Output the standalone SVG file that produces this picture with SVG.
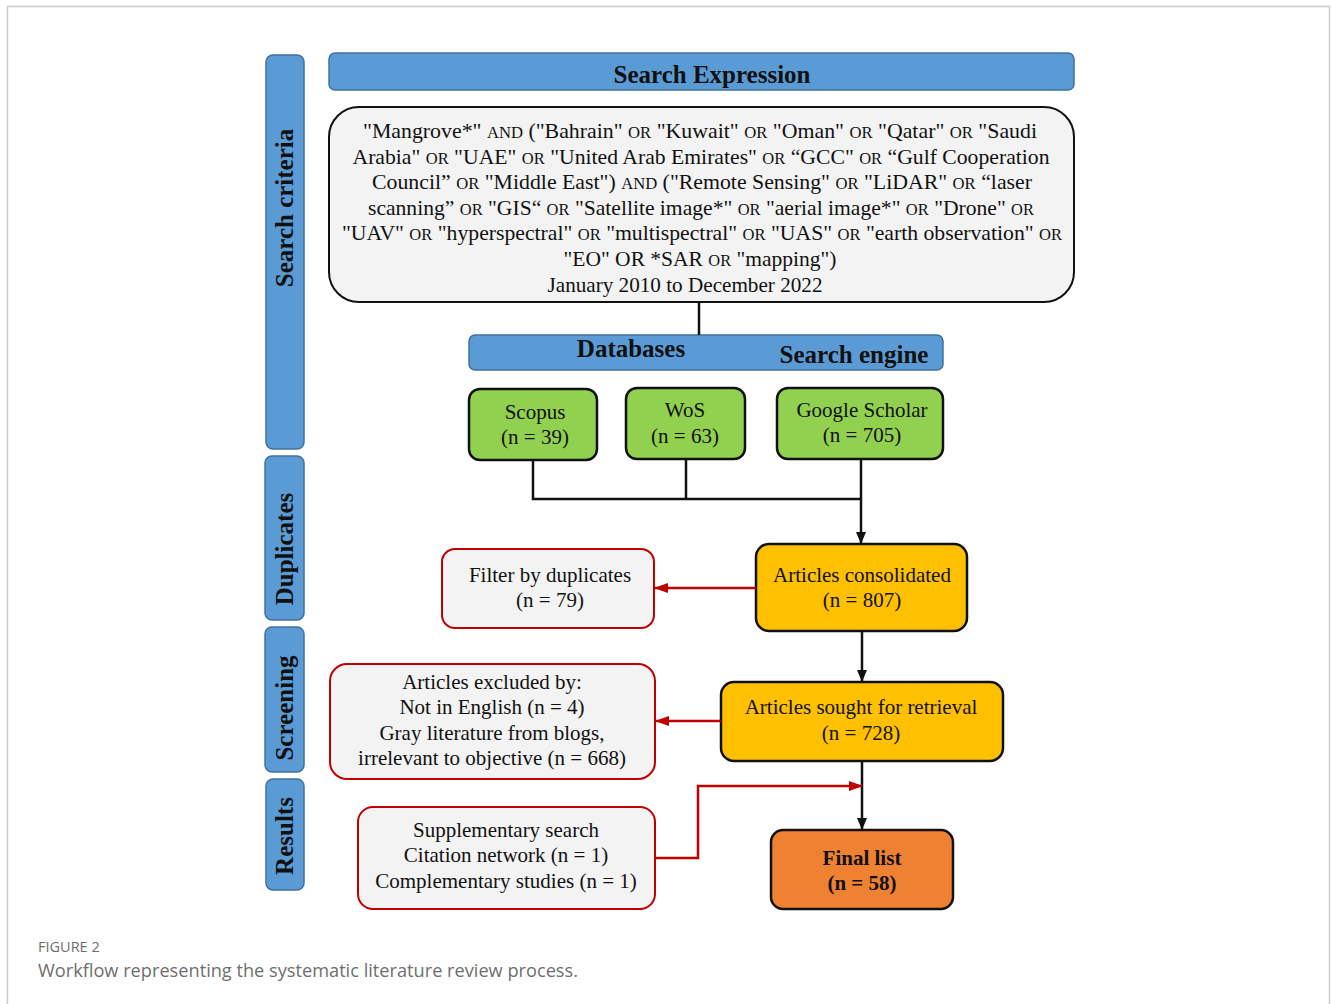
<svg xmlns="http://www.w3.org/2000/svg" width="1331" height="1004" viewBox="0 0 1331 1004">
<style>
.bar{fill:#5b9bd5;stroke:#41719c;stroke-width:1.5}
.side{fill:#5b9bd5;stroke:#41719c;stroke-width:1.5}
.green{fill:#92d050;stroke:#111;stroke-width:2.5}
.yellow{fill:#ffc000;stroke:#111;stroke-width:2.5}
.orange{fill:#ef8133;stroke:#111;stroke-width:2.5}
.red{fill:#f3f3f3;stroke:#c00000;stroke-width:2}
.grey{fill:#f3f3f3;stroke:#111;stroke-width:2}
.t{font-family:"Liberation Serif","Times New Roman",serif;font-size:21px;fill:#111;text-anchor:middle}
.b{font-family:"Liberation Serif","Times New Roman",serif;font-size:25px;font-weight:bold;fill:#111;text-anchor:middle}
.s{font-size:16px}
.k{fill:none;stroke:#111;stroke-width:2.5}
.r{fill:none;stroke:#c00000;stroke-width:2.5}
.cap{font-family:"Open Sans","Noto Sans",sans-serif;fill:#6e6e6e}
</style>
<defs>
<marker id="ak" markerWidth="12" markerHeight="12" refX="11" refY="6" orient="auto" markerUnits="userSpaceOnUse"><path d="M0,1 L12,6 L0,11 Z" fill="#111"/></marker>
<marker id="ar" markerWidth="14" markerHeight="12" refX="13" refY="6" orient="auto" markerUnits="userSpaceOnUse"><path d="M0,1 L14,6 L0,11 Z" fill="#c00000"/></marker>
</defs>
<rect x="7.5" y="6.5" width="1322" height="1100" fill="#fff" stroke="#cccccc" stroke-width="1.5"/>

<g id="side-search-criteria"><rect class="side" x="266" y="55" width="38" height="394" rx="7"/><text class="b" transform="translate(293,208) rotate(-90)">Search criteria</text></g>
<g id="side-duplicates"><rect class="side" x="265" y="456" width="39" height="164" rx="7"/><text class="b" transform="translate(293,549) rotate(-90)">Duplicates</text></g>
<g id="side-screening"><rect class="side" x="265" y="627" width="39" height="145" rx="7"/><text class="b" transform="translate(293,708) rotate(-90)">Screening</text></g>
<g id="side-results"><rect class="side" x="266" y="779" width="38" height="111" rx="7"/><text class="b" transform="translate(293,836) rotate(-90)">Results</text></g>

<g id="search-expression-header"><rect class="bar" x="329" y="53" width="745" height="37" rx="6"/><text class="b" x="712" y="83">Search Expression</text></g>

<g id="search-expression-box"><rect class="grey" x="329" y="107" width="745" height="195" rx="30"/>
<text class="t" x="700" y="138" textLength="674" lengthAdjust="spacingAndGlyphs">"Mangrove*" <tspan class="s">AND</tspan> ("Bahrain" <tspan class="s">OR</tspan> "Kuwait" <tspan class="s">OR</tspan> "Oman" <tspan class="s">OR</tspan> "Qatar" <tspan class="s">OR</tspan> "Saudi</text>
<text class="t" x="701" y="164" textLength="697" lengthAdjust="spacingAndGlyphs">Arabia" <tspan class="s">OR</tspan> "UAE" <tspan class="s">OR</tspan> "United Arab Emirates" <tspan class="s">OR</tspan> “GCC" <tspan class="s">OR</tspan> “Gulf Cooperation</text>
<text class="t" x="702" y="189" textLength="660" lengthAdjust="spacingAndGlyphs">Council” <tspan class="s">OR</tspan> "Middle East") <tspan class="s">AND</tspan> ("Remote Sensing" <tspan class="s">OR</tspan> "LiDAR" <tspan class="s">OR</tspan> “laser</text>
<text class="t" x="701" y="215" textLength="666" lengthAdjust="spacingAndGlyphs">scanning” <tspan class="s">OR</tspan> "GIS“ <tspan class="s">OR</tspan> "Satellite image*" <tspan class="s">OR</tspan> "aerial image*" <tspan class="s">OR</tspan> "Drone" <tspan class="s">OR</tspan></text>
<text class="t" x="702" y="240" textLength="720" lengthAdjust="spacingAndGlyphs">"UAV" <tspan class="s">OR</tspan> "hyperspectral" <tspan class="s">OR</tspan> "multispectral" <tspan class="s">OR</tspan> "UAS" <tspan class="s">OR</tspan> "earth observation" <tspan class="s">OR</tspan></text>
<text class="t" x="700" y="266" textLength="273" lengthAdjust="spacingAndGlyphs">"EO" OR *SAR <tspan class="s">OR</tspan> "mapping")</text>
<text class="t" x="685" y="292" textLength="275" lengthAdjust="spacingAndGlyphs">January 2010 to December 2022</text>
</g>

<g id="databases-header"><rect class="bar" x="469" y="335" width="474" height="35" rx="6"/><text class="b" x="631" y="357">Databases</text><text class="b" x="854" y="363">Search engine</text></g>

<g id="scopus"><rect class="green" x="469" y="389" width="128" height="71" rx="11"/><text class="t" x="535" y="419">Scopus</text><text class="t" x="535" y="444">(n = 39)</text></g>
<g id="wos"><rect class="green" x="626" y="388" width="119" height="71" rx="11"/><text class="t" x="685" y="417">WoS</text><text class="t" x="685" y="443">(n = 63)</text></g>
<g id="google-scholar"><rect class="green" x="777" y="388" width="166" height="71" rx="11"/><text class="t" x="862" y="417">Google Scholar</text><text class="t" x="862" y="442">(n = 705)</text></g>

<g id="articles-consolidated"><rect class="yellow" x="756" y="544" width="211" height="87" rx="13"/><text class="t" x="862" y="582">Articles consolidated</text><text class="t" x="862" y="607">(n = 807)</text></g>
<g id="filter-duplicates"><rect class="red" x="442" y="549" width="212" height="79" rx="13"/><text class="t" x="550" y="582">Filter by duplicates</text><text class="t" x="550" y="607">(n = 79)</text></g>

<g id="articles-retrieval"><rect class="yellow" x="721" y="682" width="282" height="79" rx="13"/><text class="t" x="861" y="714">Articles sought for retrieval</text><text class="t" x="861" y="740">(n = 728)</text></g>
<g id="articles-excluded"><rect class="red" x="330" y="664" width="325" height="115" rx="17"/><text class="t" x="492" y="689">Articles excluded by:</text><text class="t" x="492" y="714">Not in English (n = 4)</text><text class="t" x="492" y="740">Gray literature from blogs,</text><text class="t" x="492" y="765">irrelevant to objective (n = 668)</text></g>

<g id="supplementary-search"><rect class="red" x="358" y="807" width="297" height="102" rx="15"/><text class="t" x="506" y="837">Supplementary search</text><text class="t" x="506" y="862">Citation network (n = 1)</text><text class="t" x="506" y="888">Complementary studies (n = 1)</text></g>
<g id="final-list"><rect class="orange" x="771" y="830" width="182" height="79" rx="12"/><text class="t" x="862" y="865" font-weight="bold">Final list</text><text class="t" x="862" y="890" font-weight="bold">(n = 58)</text></g>

<g id="connectors">
<path class="k" d="M699,302 V335"/>
<path class="k" d="M533,460 V499 H861"/>
<path class="k" d="M686,459 V499"/>
<path class="k" d="M861,459 V543" marker-end="url(#ak)"/>
<path class="r" d="M756,588 H655" marker-end="url(#ar)"/>
<path class="k" d="M862,631 V681" marker-end="url(#ak)"/>
<path class="r" d="M721,721 H656" marker-end="url(#ar)"/>
<path class="k" d="M862,761 V829" marker-end="url(#ak)"/>
<path class="r" d="M655,858 H698 V786 H862" marker-end="url(#ar)"/>
</g>

<text class="cap" x="38" y="952" font-size="14.5">FIGURE 2</text>
<text class="cap" x="38" y="977" font-size="18.2">Workflow representing the systematic literature review process.</text>
</svg>
